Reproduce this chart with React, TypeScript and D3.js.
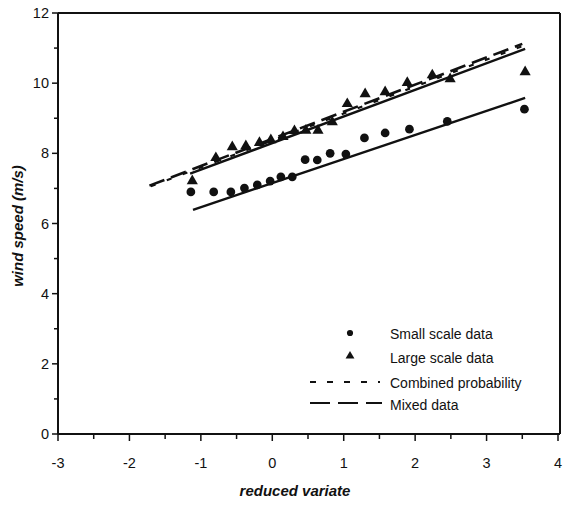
import React from "react";
import * as d3 from "d3";

const smallX = [-1.14, -0.82, -0.58, -0.39, -0.21, -0.03, 0.12, 0.28, 0.46, 0.63, 0.81, 1.03, 1.29, 1.58, 1.92, 2.45, 3.53];
const smallY = [6.9, 6.9, 6.9, 7.01, 7.1, 7.21, 7.33, 7.33, 7.82, 7.81, 8.0, 7.98, 8.44, 8.58, 8.69, 8.91, 9.26];

const largeX = [-1.12, -0.79, -0.56, -0.37, -0.18, -0.02, 0.15, 0.31, 0.47, 0.64, 0.84, 1.05, 1.3, 1.58, 1.89, 2.24, 2.49, 3.54];
const largeY = [7.21, 7.87, 8.18, 8.21, 8.3, 8.38, 8.47, 8.64, 8.65, 8.65, 8.89, 9.41, 9.69, 9.75, 10.01, 10.23, 10.12, 10.32];

// fitted lines (endpoints in data units)
const smallFit: [number, number][] = [[-1.11, 6.39], [3.54, 9.58]];
const largeFit: [number, number][] = [[-1.15, 7.42], [3.54, 10.98]];
const combinedFit: [number, number][] = [[-1.7, 7.06], [3.52, 11.07]];
const mixedFit: [number, number][] = [[-1.72, 7.08], [3.5, 11.12]];

const xTicks = [-3, -2, -1, 0, 1, 2, 3, 4];
const yTicks = [0, 2, 4, 6, 8, 10, 12];

const legendLabels = ["Small scale data", "Large scale data", "Combined probability", "Mixed data"];

const FONT = "'Liberation Sans', Arial, Helvetica, sans-serif";

export default function App() {
  const x = d3.scaleLinear().domain([-3, 4]).range([58, 558]);
  const y = d3.scaleLinear().domain([0, 12]).range([434, 13]);
  const line = d3.line<[number, number]>().x(d => x(d[0])).y(d => y(d[1]));
  const tri = d3.symbol().type(d3.symbolTriangle).size(54)();
  const circ = d3.symbol().type(d3.symbolCircle).size(60)();

  const xMinor = d3.range(-3, 4.01, 0.5).filter(v => !Number.isInteger(v));
  const yMinor = d3.range(1, 12, 2);

  return (
    <svg width={567} height={505} style={{ position: "absolute", left: 0, top: 0, background: "#fff" }} fontFamily={FONT}>
      <rect x={0} y={0} width={567} height={505} fill="#fff" />
      {/* frame */}
      <line x1={x(-3)} x2={x(4) + 2} y1={y(12)} y2={y(12)} stroke="#111" strokeWidth={2} />
      <line x1={x(4) + 2} x2={x(4) + 2} y1={y(12)} y2={y(0)} stroke="#111" strokeWidth={2} />
      <line x1={x(-3)} x2={x(-3)} y1={y(12)} y2={y(0)} stroke="#111" strokeWidth={2} />
      <line x1={x(-3)} x2={x(4) + 2} y1={y(0)} y2={y(0)} stroke="#111" strokeWidth={2} />

      {/* x ticks */}
      {xTicks.map(t => (
        <g key={"xt" + t}>
          <line x1={x(t)} x2={x(t)} y1={y(0)} y2={y(0) + 7} stroke="#111" strokeWidth={1.5} />
          <text x={x(t)} y={y(0) + 34} textAnchor="middle" fontSize={14.5} fill="#111">{t}</text>
        </g>
      ))}
      {xMinor.map(t => (
        <line key={"xm" + t} x1={x(t)} x2={x(t)} y1={y(0)} y2={y(0) + 5} stroke="#111" strokeWidth={1.5} />
      ))}
      {/* y ticks */}
      {yTicks.map(t => (
        <g key={"yt" + t}>
          <line x1={x(-3) - 6} x2={x(-3)} y1={y(t)} y2={y(t)} stroke="#111" strokeWidth={1.5} />
          <text x={x(-3) - 9} y={y(t)} dy="0.35em" textAnchor="end" fontSize={14.5} fill="#111">{t}</text>
        </g>
      ))}
      {yMinor.map(t => (
        <line key={"ym" + t} x1={x(-3) - 4} x2={x(-3)} y1={y(t)} y2={y(t)} stroke="#111" strokeWidth={1.5} />
      ))}

      {/* axis titles */}
      <text x={295} y={496} textAnchor="middle" fontSize={15} fontWeight="bold" fontStyle="italic" fill="#111">reduced variate</text>
      <text transform="translate(23,226) rotate(-90)" textAnchor="middle" fontSize={15} fontWeight="bold" fontStyle="italic" fill="#111">wind speed (m/s)</text>

      {/* fit lines */}
      <path d={line(smallFit) || ""} fill="none" stroke="#111" strokeWidth={2.4} />
      <path d={line(largeFit) || ""} fill="none" stroke="#111" strokeWidth={2.4} />
      <path d={line(combinedFit) || ""} fill="none" stroke="#111" strokeWidth={2.2} strokeDasharray="5 12" />
      <path d={line(mixedFit) || ""} fill="none" stroke="#111" strokeWidth={2.6} strokeDasharray="16 7" />

      {/* points */}
      {smallX.map((v, i) => (
        <path key={"s" + i} d={circ || ""} transform={`translate(${x(v)},${y(smallY[i])})`} fill="#111" />
      ))}
      {largeX.map((v, i) => (
        <path key={"l" + i} d={tri || ""} transform={`translate(${x(v)},${y(largeY[i])})`} fill="#111" />
      ))}

      {/* legend */}
      <g fontSize={14} fill="#111">
        <path d={d3.symbol().type(d3.symbolCircle).size(30)() || ""} transform="translate(350,333)" fill="#111" />
        <text x={390} y={338} dy="0.1em">{legendLabels[0]}</text>
        <path d={d3.symbol().type(d3.symbolTriangle).size(34)() || ""} transform="translate(350,356)" fill="#111" />
        <text x={390} y={362} dy="0.1em">{legendLabels[1]}</text>
        <line x1={310} x2={380} y1={382} y2={382} stroke="#111" strokeWidth={1.8} strokeDasharray="6 11" />
        <text x={390} y={387} dy="0.1em">{legendLabels[2]}</text>
        <line x1={310} x2={382} y1={403} y2={403} stroke="#111" strokeWidth={2.2} strokeDasharray="20 8" />
        <text x={390} y={409} dy="0.1em">{legendLabels[3]}</text>
      </g>
    </svg>
  );
}
